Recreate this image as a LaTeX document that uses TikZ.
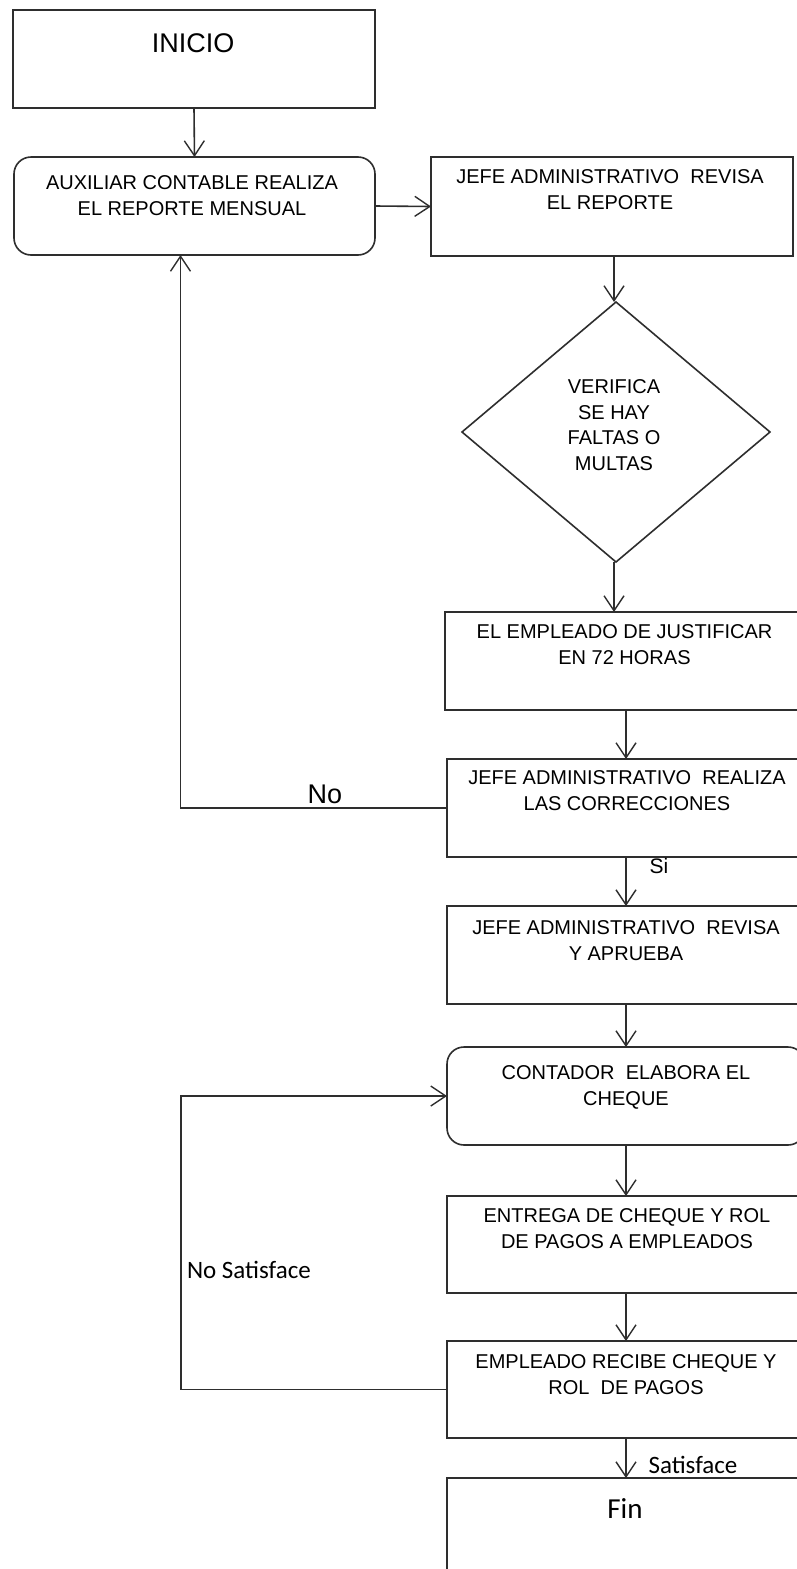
\documentclass[tikz,border=0pt]{standalone}
\usepackage{fontspec}
\setmainfont{Liberation Sans}
\newfontfamily\calib{Carlito}
\usetikzlibrary{arrows.meta,shapes.geometric}

\begin{document}
\begin{tikzpicture}[x=1pt,y=-1pt,
  line width=1.6pt,
  every node/.style={inner sep=0pt, outer sep=0pt},
  box/.style={draw=black!82, fill=white, rectangle, minimum width=#1},
  box/.default=358pt,
  rbox/.style={box=#1, rounded corners=17pt},
  rbox/.default=358pt,
  decision/.style={draw=black!82, fill=white, diamond, minimum width=308pt,
    minimum height=260pt, aspect=1.18},
  txt/.style={anchor=north, align=center, text=black,
    font=\fontsize{20}{25.5}\selectfont},
  big/.style={font=\fontsize{27}{30}\selectfont, text=black},
  lbl/.style={font=\calib\fontsize{25}{28}\selectfont, text=black},
  arr/.style={draw=black!82, -{Straight Barb[length=15pt,width=20pt,line width=1.4pt]}},
]
\useasboundingbox (0,0) rectangle (797,1569);

% process boxes
\node[box=362pt, minimum height=98pt] (inicio) at (194,59) {};
\node[big] (inicioT) at (193,43) {INICIO};

\node[rbox=361pt, minimum height=98pt] (aux) at (194.5,206) {};
\node[txt] (auxT) at (192,176) {AUXILIAR CONTABLE REALIZA\\EL REPORTE MENSUAL};

\node[box=362pt, minimum height=99pt] (jefe1) at (612,206.5) {};
\node[txt] (jefe1T) at (610,170) {JEFE ADMINISTRATIVO~ REVISA\\EL REPORTE};

\node[decision] (dia) at (616,432) {};
\node[txt] (diaT) at (614,380) {VERIFICA\\SE HAY\\FALTAS O\\MULTAS};

\node[box=360pt, minimum height=98pt] (empl) at (625,661) {};
\node[txt] (emplT) at (624.5,625) {EL EMPLEADO DE JUSTIFICAR\\EN 72 HORAS};

\node[box, minimum height=98pt] (jefe2) at (626,808) {};
\node[txt] (jefe2T) at (627,771) {JEFE ADMINISTRATIVO~ REALIZA\\LAS CORRECCIONES};

\node[lbl, font=\fontsize{21}{24}\selectfont] (si) at (659,866) {Si};

\node[box, minimum height=98pt] (jefe3) at (626,955) {};
\node[txt] (jefe3T) at (626,921) {JEFE ADMINISTRATIVO~ REVISA\\Y APRUEBA};

\node[rbox, minimum height=98pt] (cont) at (626,1096) {};
\node[txt] (contT) at (626,1066) {CONTADOR~ ELABORA EL\\CHEQUE};

\node[box, minimum height=97pt] (entrega) at (626,1244.5) {};
\node[txt] (entregaT) at (627,1209) {ENTREGA DE CHEQUE Y ROL\\DE PAGOS A EMPLEADOS};

\node[box, minimum height=97pt] (recibe) at (626,1389.5) {};
\node[txt] (recibeT) at (626,1355) {EMPLEADO RECIBE CHEQUE Y\\ROL~ DE PAGOS};

\node[box, minimum height=102pt] (fin) at (626,1529) {};
\node[lbl, font=\calib\fontsize{29}{32}\selectfont] (finT) at (625,1509) {Fin};

% main flow
\coordinate (diaTop) at ([xshift=-2pt]dia.north);
\coordinate (diaBot) at ([xshift=-2pt]dia.south);
\draw[arr] (diaTop |- jefe1.south) -- (diaTop);
\draw[arr] (inicio.south) -- (aux.north);
\draw[arr] (aux.east) -- (jefe1.west);
\draw[arr] (diaBot) -- (diaBot |- empl.north);
\draw[arr] (jefe2.north |- empl.south) -- (jefe2.north);
\draw[arr] (jefe2.south) -- (jefe3.north);
\draw[arr] (jefe3.south) -- (cont.north);
\draw[arr] (cont.south) -- (entrega.north);
\draw[arr] (entrega.south) -- (recibe.north);
\draw[arr] (recibe.south) -- (fin.north);

% return loops
\coordinate (auxIn) at ([xshift=-14pt]aux.south);
\draw[arr] (jefe2.west) -| (auxIn);
\node[big] (noT) at (325,794) {No};

\coordinate (loopL) at (181,0);
\draw[arr] (recibe.west) -| (loopL |- cont.west) -- (cont.west);
\node[lbl, anchor=west] (noSat) at (187,1270) {No Satisface};

\node[lbl] (sat) at (693,1465) {Satisface};
\end{tikzpicture}
\end{document}
